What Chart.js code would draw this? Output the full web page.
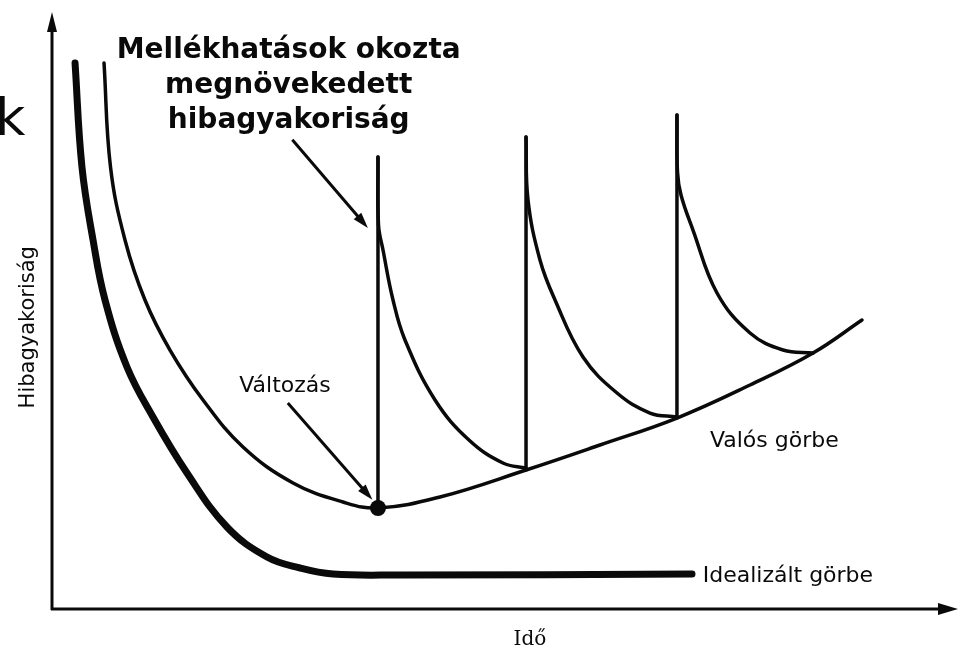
<!DOCTYPE html>
<html>
<head>
<meta charset="utf-8">
<script src="https://cdn.jsdelivr.net/npm/chart.js@4/dist/chart.umd.min.js"></script>
<style>
  html, body { margin: 0; padding: 0; background: #fff; }
  #chart { display: block; }
</style>
</head>
<body>
<canvas id="chart" width="961" height="648"></canvas>
<script>
// time (0-100) and failure rate (0-100)
const idealX = [2.56, 3.33, 4.56, 5.89, 8.33, 11.22, 15.0, 19.44, 23.89, 27.56, 31.22, 38.67, 71.11]
const idealY = [91.46, 74.04, 61.81, 51.76, 40.54, 32.16, 22.78, 13.74, 8.71, 6.87, 5.86, 5.7, 5.86]

const realX = [5.78, 6.5, 8.11, 10.33, 13.11, 16.78, 21.22, 26.78, 32.33, 36.22, 43.11, 52.67, 60.89, 69.44, 77.56, 84.56, 90.0]
const realY = [91.46, 74.04, 61.81, 51.76, 43.38, 35.01, 27.14, 21.11, 17.92, 16.92, 18.76, 23.28, 27.47, 31.99, 37.52, 42.88, 48.41]

// each change makes the rate jump, then it decays back
const changeX = [36.22, 52.67, 69.44]
const spikeBase = [16.92, 23.28, 31.99]
const spikeTop = [75.71, 79.06, 82.75]

const decay1X = [36.22, 36.28, 36.78, 37.89, 39.22, 42.56, 46.33, 50.11, 52.67]
const decay1Y = [75.71, 64.32, 60.13, 51.76, 45.06, 35.01, 28.31, 24.46, 23.62]
const decay2X = [52.67, 52.89, 54.22, 55.89, 59.0, 62.78, 66.44, 69.44]
const decay2Y = [79.06, 68.51, 58.46, 51.76, 42.21, 36.18, 32.83, 32.16]
const decay3X = [69.44, 69.5, 69.89, 71.22, 73.89, 77.56, 81.22, 84.56]
const decay3Y = [82.75, 73.2, 69.35, 63.48, 52.93, 46.23, 43.38, 42.88]

const titleLines = ['Mellékhatások okozta', 'megnövekedett', 'hibagyakoriság']
const xTitle = 'Idő'
const yTitle = 'Hibagyakoriság'

const ink = '#0a0a0a'

const pts = (xs, ys) => xs.map((x, i) => ({ x: x, y: ys[i] }))

const lineSet = (data, width, tension) => ({
    data: data,
    showLine: true,
    borderColor: ink,
    borderWidth: width,
    borderCapStyle: 'round',
    borderJoinStyle: 'round',
    pointRadius: 0,
    tension: tension,
    clip: false
})

const datasets = [
    lineSet(pts(idealX, idealY), 7, 0.4),
    lineSet(pts(realX, realY), 3.5, 0.4),
    lineSet(pts(decay1X, decay1Y), 3.5, 0.4),
    lineSet(pts(decay2X, decay2Y), 3.5, 0.4),
    lineSet(pts(decay3X, decay3Y), 3.5, 0.4)
]
changeX.forEach((x, i) => {
    datasets.push(lineSet([{ x: x, y: spikeBase[i] }, { x: x, y: spikeTop[i] }], 3.5, 0))
})
// the first change
datasets.push({
    data: [{ x: changeX[0], y: spikeBase[0] }],
    pointRadius: 8,
    pointBackgroundColor: ink,
    pointBorderWidth: 0,
    showLine: false,
    clip: false
})

function arrow(ctx, x1, y1, x2, y2, len, half) {
    const ang = Math.atan2(y2 - y1, x2 - x1)
    ctx.beginPath()
    ctx.moveTo(x1, y1)
    ctx.lineTo(x2 - Math.cos(ang) * len * 0.6, y2 - Math.sin(ang) * len * 0.6)
    ctx.stroke()
    ctx.beginPath()
    ctx.moveTo(x2, y2)
    ctx.lineTo(x2 - Math.cos(ang) * len - Math.sin(ang) * half, y2 - Math.sin(ang) * len + Math.cos(ang) * half)
    ctx.lineTo(x2 - Math.cos(ang) * len + Math.sin(ang) * half, y2 - Math.sin(ang) * len - Math.cos(ang) * half)
    ctx.closePath()
    ctx.fill()
}

const drawings = {
    id: 'drawings',
    beforeDatasetsDraw(chart) {
        const { ctx, chartArea: a } = chart
        ctx.save()
        ctx.strokeStyle = ink
        ctx.fillStyle = ink
        ctx.lineWidth = 3
        // axes with arrow heads
        arrow(ctx, a.left, a.bottom + 1, a.left, a.top, 20, 5)
        arrow(ctx, a.left - 1, a.bottom, a.right + 6, a.bottom, 20, 6)
        ctx.restore()
    },
    afterDatasetsDraw(chart) {
        const { ctx } = chart
        const xs = chart.scales.x
        const ys = chart.scales.y
        const px = (v) => xs.getPixelForValue(v)
        const py = (v) => ys.getPixelForValue(v)
        ctx.save()
        ctx.strokeStyle = ink
        ctx.fillStyle = ink
        ctx.lineWidth = 3

        // annotation arrows
        arrow(ctx, px(26.7), py(78.6), px(35.1), py(63.8), 16, 5)
        arrow(ctx, px(26.2), py(34.5), px(35.6), py(18.3), 16, 5)

        // bold title
        ctx.font = 'bold 28px "DejaVu Sans"'
        ctx.textAlign = 'center'
        ctx.textBaseline = 'alphabetic'
        const titleY = [92.3, 86.4, 80.6]
        titleLines.forEach((t, i) => ctx.fillText(t, px(26.3), py(titleY[i])))

        ctx.textAlign = 'left'
        ctx.font = '22px "DejaVu Sans"'
        ctx.fillText('Változás', px(20.8), py(36.3))
        ctx.fillText('Valós görbe', px(73.1), py(27.1))
        ctx.fillText('Idealizált görbe', px(72.3), py(4.5))

        // stray letter at the left edge
        ctx.font = '52px "DejaVu Sans"'
        ctx.fillText('k', px(-6.3), py(79.4))

        // axis titles
        ctx.font = '20px "DejaVu Serif"'
        ctx.textAlign = 'center'
        ctx.fillText(xTitle, px(53.1), py(-6.0))

        ctx.font = '21px "DejaVu Sans"'
        ctx.translate(px(-2.6), py(47.2))
        ctx.rotate(-Math.PI / 2)
        ctx.textBaseline = 'middle'
        ctx.fillText(yTitle, 0, 0)
        ctx.restore()
    }
}

const ctx = document.getElementById('chart').getContext('2d')
const myChart = new Chart(ctx, {
    type: 'scatter',
    data: { datasets: datasets },
    options: {
        responsive: false,
        animation: false,
        events: [],
        layout: { padding: { left: 52, right: 9, top: 12, bottom: 39 } },
        plugins: {
            legend: { display: false },
            tooltip: { enabled: false }
        },
        scales: {
            x: { type: 'linear', min: 0, max: 100, display: false },
            y: { type: 'linear', min: 0, max: 100, display: false }
        }
    },
    plugins: [drawings]
})
</script>
</body>
</html>
